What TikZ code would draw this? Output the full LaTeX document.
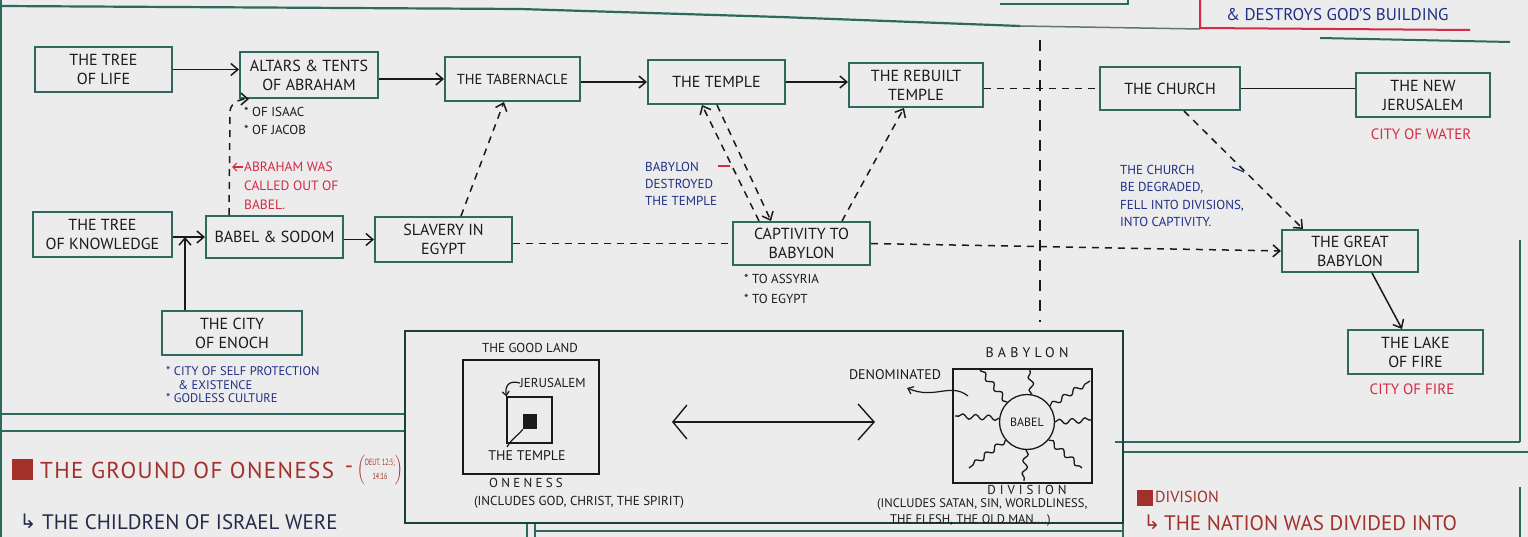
\documentclass[tikz,border=0pt]{standalone}
\usepackage{fontspec}
\setmainfont{PT Sans}
\newfontfamily\symf{DejaVu Sans}
\newfontfamily\narrowf{PT Sans}[FakeStretch=0.68]
\usetikzlibrary{arrows.meta,decorations.pathmorphing}
\definecolor{paper}{HTML}{ECECEC}
\definecolor{boxc}{HTML}{2C6A5F}
\definecolor{navy}{HTML}{1F2F85}
\definecolor{crim}{HTML}{D42A45}
\definecolor{brick}{HTML}{A3302A}
\definecolor{ink}{HTML}{1A1A1A}
\definecolor{dnavy}{HTML}{262A4A}
\newcommand{\myfs}[2]{\fontsize{#1}{#2}\selectfont}
\begin{document}
\begin{tikzpicture}[x=1pt,y=-1pt,
  box/.style={draw=boxc,line width=2pt,align=center,inner sep=0pt,text=ink,font=\myfs{16}{19}},
  lbl/.style={inner sep=0pt,align=left,text=ink},
  arr/.style={draw=ink,line width=1.5pt,-{Straight Barb[length=7pt,width=12pt]}},
  dsh/.style={draw=ink,line width=1.5pt,dash pattern=on 7pt off 6pt},
  darr/.style={dsh,-{Straight Barb[length=7pt,width=12pt]}},
  frame/.style={draw=boxc,line width=2pt},
  wig/.style={draw=ink,line width=1.3pt,decorate,decoration={snake,amplitude=2.5pt,segment length=13pt}}]
\useasboundingbox (0,0) rectangle (1528,537);
\fill[paper] (0,0) rectangle (1528,537);

% ---------- frame lines ----------
\draw[frame,line width=2.2pt] (0,6) -- (520,9) -- (780,17) -- (1020,26);
\draw[draw=gray!60!boxc,line width=1.5pt] (1020,26) -- (1200,29);
\draw[frame] (1000,4) -- (1128,4) -- (1128,0);
\draw[crim,line width=2pt] (1200,0) -- (1200,28) -- (1470,30);
\draw[frame] (1320,38) -- (1510,42);
\draw[boxc,line width=1.2pt] (1,0) -- (1,537);
\draw[frame] (1520,240) -- (1520,442);
\draw[frame] (1115,442) -- (1520,442);
\draw[frame] (1123,452) -- (1528,452);
\draw[frame] (1123,523) -- (1123,537);
\draw[frame] (1520,487) -- (1520,537);
\draw[frame] (0,414) -- (405,414);
\draw[frame] (0,431) -- (405,431);
\draw[frame,line width=1.5pt] (535,531) -- (1123,531);
\draw[frame,line width=1.5pt] (527,523) -- (527,537);
\draw[frame,line width=1.5pt] (535,523) -- (535,537);
\draw[ink,line width=1.5pt,dash pattern=on 11pt off 9pt] (1040,40) -- (1040,322);

\node[lbl,text=navy,font=\myfs{17}{17},anchor=west] (destroys) at (1226,15) {\& DESTROYS GOD'S BUILDING};

% ---------- boxes ----------
\node[box,minimum width=137pt,minimum height=45pt] (tol) at (103.5,69.5) {THE TREE\\OF LIFE};
\node[box,minimum width=138pt,minimum height=46pt] (alt) at (309,75) {ALTARS \& TENTS\\OF ABRAHAM};
\node[box,minimum width=135pt,minimum height=44pt,font=\myfs{14.5}{17}] (tab) at (512.5,79) {THE TABERNACLE};
\node[box,minimum width=137pt,minimum height=44pt] (tem) at (716.5,82) {THE TEMPLE};
\node[box,minimum width=134pt,minimum height=44pt] (reb) at (916,85) {THE REBUILT\\TEMPLE};
\node[box,minimum width=140pt,minimum height=43pt] (chu) at (1170,88.5) {THE CHURCH};
\node[box,minimum width=134pt,minimum height=44pt] (nje) at (1423,95) {THE NEW\\JERUSALEM};
\node[box,minimum width=139pt,minimum height=45pt] (tok) at (102.5,234.5) {THE TREE\\OF KNOWLEDGE};
\node[box,minimum width=137pt,minimum height=42pt] (bab) at (274.5,237) {BABEL \& SODOM};
\node[box,minimum width=137pt,minimum height=45pt] (sla) at (443.5,239.5) {SLAVERY IN\\EGYPT};
\node[box,minimum width=137pt,minimum height=43pt] (cap) at (801.5,243.5) {CAPTIVITY TO\\BABYLON};
\node[box,minimum width=136pt,minimum height=42pt] (gba) at (1350,251) {THE GREAT\\BABYLON};
\node[box,minimum width=135pt,minimum height=44pt] (lof) at (1415.5,352) {THE LAKE\\OF FIRE};
\node[box,minimum width=140pt,minimum height=44pt] (enc) at (232,333) {THE CITY\\OF ENOCH};

% ---------- notes ----------
\node[lbl,anchor=west,font=\myfs{13}{18}] (altn) at (244,121) {* OF ISAAC\\* OF JACOB};
\node[lbl,anchor=west,text=crim,font=\myfs{13.5}{19}] (abr) at (244,186) {ABRAHAM WAS\\CALLED OUT OF\\BABEL.};
\node[lbl,anchor=west,font=\myfs{13}{20}] (capn) at (744,289) {* TO ASSYRIA\\* TO EGYPT};
\node[lbl,anchor=west,text=navy,font=\myfs{13}{17}] (btd) at (645,184) {BABYLON\\DESTROYED\\THE TEMPLE};
\node[lbl,anchor=west,text=navy,font=\myfs{13}{17.3}] (chn) at (1120,196) {THE CHURCH\\BE DEGRADED,\\FELL INTO DIVISIONS,\\INTO CAPTIVITY.};
\node[lbl,text=crim,font=\myfs{15}{15}] (water) at (1421,134) {CITY OF WATER};
\node[lbl,text=crim,font=\myfs{15}{15}] (fire) at (1412,389) {CITY OF FIRE};
\node[lbl,anchor=west,text=navy,font=\myfs{12.5}{13.5}] (encn) at (166,385) {* CITY OF SELF PROTECTION\\\hspace*{12pt}\& EXISTENCE\\* GODLESS CULTURE};

% ---------- connectors ----------
\draw[arr] (tol.east) -- (tol.east -| alt.west);
\draw[arr] (tab.west -| alt.east) -- (tab.west);
\draw[arr] (tem.west -| tab.east) -- (tem.west);
\draw[arr] (tem.east) -- (tem.east -| reb.west);
\draw[dsh] (chu.west -| reb.east) -- (chu.west);
\draw[draw=ink,line width=1.5pt] (chu.east) -- (chu.east -| nje.west);
\draw[arr] (bab.west -| tok.east) -- (bab.west);
\coordinate (encup) at ([xshift=24pt]enc.north west);
\draw[arr] (encup) -- (encup |- bab.west);
\draw[arr] (sla.west -| bab.east) -- (sla.west);
\coordinate (babtop) at ([xshift=24pt]bab.north west);
\coordinate (babmid) at (230,112);
\coordinate (altin) at ([xshift=10pt]alt.south west);
\draw[darr] (babtop) -- (babmid) .. controls (230,104) and (238,99) .. (altin);
\coordinate (abrA) at (243,167);
\coordinate (abrB) at (232,167);
\draw[crim,line width=1.2pt,-{Straight Barb[length=4pt,width=8pt]}] (abrA) -- (abrB);
\draw[darr] ([xshift=87pt]sla.north west) -- ([xshift=60pt]tab.south west);
\draw[darr] ([xshift=27pt]cap.north west) -- ([xshift=55pt]tem.south west);
\draw[darr] ([xshift=70pt]tem.south west) -- ([xshift=39pt]cap.north west);
\draw[darr] ([xshift=110pt]cap.north west) -- ([xshift=56pt]reb.south west);
\draw[dsh] (cap.west -| sla.east) -- (cap.west);
\draw[darr] (cap.east) -- (gba.west);
\draw[darr] ([xshift=85pt]chu.south west) -- ([xshift=22pt]gba.north west);
\draw[arr] ([xshift=91pt]gba.south west) -- ([xshift=55pt]lof.north west);
\coordinate (tkA) at (718,166);
\coordinate (tkB) at (730,166);
\draw[crim,line width=1.2pt] (tkA) -- (tkB);
\coordinate (tkC) at (1232,167);
\coordinate (tkD) at (1244,172);
\draw[navy,line width=1.2pt] (tkC) -- (tkD);

% ---------- bottom panel ----------
\node[draw=boxc!60!black,line width=1.6pt,minimum width=718pt,minimum height=192pt,inner sep=0pt] (panel) at (764,427) {};
\node[lbl,font=\myfs{13}{13}] (glt) at (530,348) {THE GOOD LAND};
\node[draw=ink,line width=1.4pt,minimum width=136pt,minimum height=114pt,inner sep=0pt] (gl) at (531,417) {};
\node[draw=ink,line width=1.3pt,minimum width=45pt,minimum height=46pt,inner sep=0pt] (jsq) at (529.5,420) {};
\node[fill=ink,minimum width=14pt,minimum height=15pt,inner sep=0pt] (tsq) at (530,421.5) {};
\node[lbl,anchor=west,font=\myfs{13}{13}] (jt) at (520,383) {JERUSALEM};
\draw[ink,line width=1.2pt,-{Straight Barb[length=4pt,width=7pt]}] (jt.west) .. controls (508,380) and (505,386) .. (jsq.north west);
\node[lbl,font=\myfs{14}{14}] (tt) at (527,456) {THE TEMPLE};
\coordinate (tl1) at (507,447);
\draw[ink,line width=1.2pt] (tl1) .. controls (512,438) and (520,434) .. (tsq.south west);
\node[lbl,font=\myfs{13}{13}\addfontfeature{LetterSpace=25}] (one) at (526,483) {ONENESS};
\node[lbl,font=\myfs{13}{13}] (onei) at (579,502) {(INCLUDES GOD, CHRIST, THE SPIRIT)};

\coordinate (da1) at (672,422);
\coordinate (da2) at (875,422);
\draw[ink,line width=1.4pt,{Straight Barb[length=14pt,width=34pt]}-{Straight Barb[length=16pt,width=36pt]}] (da1) -- (da2);

\node[lbl,font=\myfs{14}{14}\addfontfeature{LetterSpace=30}] (byt) at (1027,353) {BABYLON};
\node[draw=ink,line width=1.4pt,minimum width=139pt,minimum height=114pt,inner sep=0pt] (byb) at (1022.5,426) {};
\node[draw=ink,line width=1.3pt,circle,minimum size=55pt,inner sep=0pt,font=\myfs{12}{12},text=ink] (babel) at (1027,422) {BABEL};
\coordinate (w1) at (980,370);
\coordinate (w2) at (1030,370);
\coordinate (w3) at (1090,381);
\coordinate (w4) at (1091,420);
\coordinate (w5) at (1082,468);
\coordinate (w6) at (1024,481);
\coordinate (w7) at (969,468);
\coordinate (w8) at (955,416);
\draw[wig] (babel.135) -- (w1);
\draw[wig] (babel.80) -- (w2);
\draw[wig] (babel.35) -- (w3);
\draw[wig] (babel.0) -- (w4);
\draw[wig] (babel.-40) -- (w5);
\draw[wig] (babel.-92) -- (w6);
\draw[wig] (babel.-140) -- (w7);
\draw[wig] (babel.172) -- (w8);
\node[lbl,font=\myfs{14}{14}] (den) at (895,375) {DENOMINATED};
\coordinate (dn1) at (968,396);
\coordinate (dn2) at (907,388);
\draw[ink,line width=1.2pt,-{Straight Barb[length=5pt,width=8pt]}] (dn1) .. controls (950,382) and (935,400) .. (dn2);
\node[lbl,font=\myfs{13}{13}\addfontfeature{LetterSpace=30}] (divt) at (1027,490) {DIVISION};
\node[lbl,anchor=west,font=\myfs{12.5}{16}] (divi) at (877,512) {(INCLUDES SATAN, SIN, WORLDLINESS,\\\hspace*{13pt}THE FLESH, THE OLD MAN....)};

% ---------- bottom texts ----------
\node[fill=brick,minimum width=21pt,minimum height=21pt,inner sep=0pt] (icon1) at (22,469) {};
\node[lbl,anchor=west,text=brick,font=\myfs{23}{23}\addfontfeature{LetterSpace=6}] (ground) at (40,470) {THE GROUND OF ONENESS};
\node[lbl,text=brick,font=\myfs{23}{23}] (gdash) at (349,470) {-};
\node[lbl,text=brick] (deut) at (380,470) {$\left(\vcenter{\hbox{\narrowf\myfs{9}{14}\begin{tabular}{@{}c@{}}DEUT. 12:5;\\14:16\end{tabular}}}\right)$};
\node[lbl,text=dnavy,font=\symf\myfs{20}{20}] (hook1) at (28,521) {↳};
\node[lbl,anchor=west,text=dnavy,font=\myfs{21}{21}] (isr) at (42,522) {THE CHILDREN OF ISRAEL WERE};

\node[fill=brick,minimum width=16pt,minimum height=16pt,inner sep=0pt] (icon2) at (1145,498) {};
\node[lbl,anchor=west,text=brick,font=\myfs{16}{16}] (divh) at (1155,497) {DIVISION};
\node[lbl,text=brick,font=\symf\myfs{20}{20}] (hook2) at (1152,522) {↳};
\node[lbl,anchor=west,text=brick,font=\myfs{21}{21}] (nat) at (1164,523) {THE NATION WAS DIVIDED INTO};
\end{tikzpicture}
\end{document}
